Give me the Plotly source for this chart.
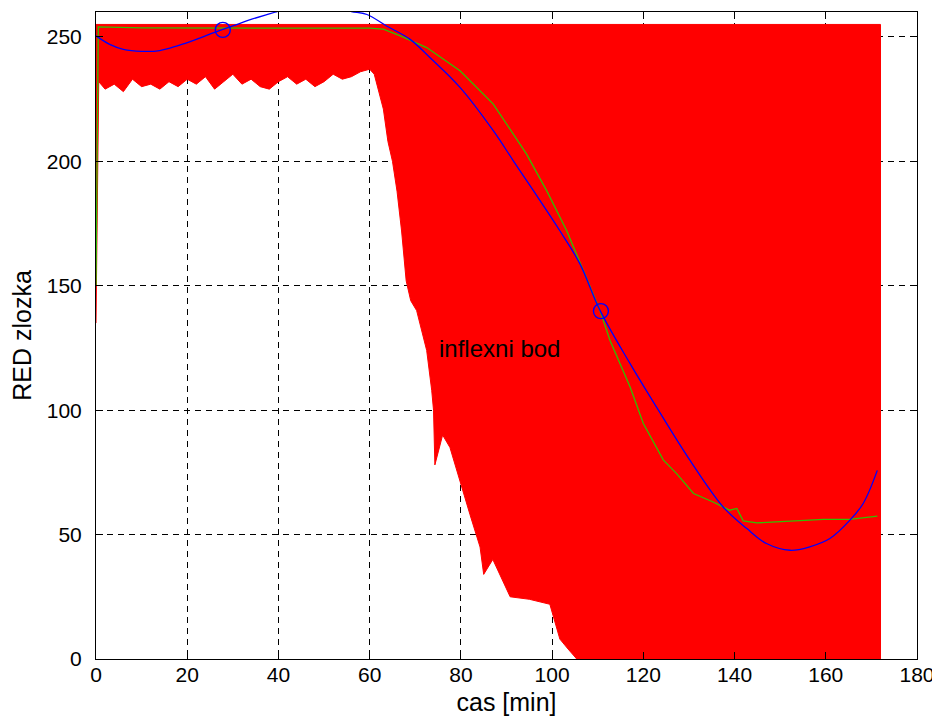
import plotly.graph_objects as go

# ---- data ----
# envelope of the many red sample curves
red_upper_x = [0, 172]
red_upper_y = [255, 255]
red_lower_x = [0, 0.6, 2, 4, 6, 8, 10, 12, 14, 16, 18, 20, 22, 24, 26, 28, 30, 32, 34, 36,
               38, 40, 42, 44, 46, 48, 50, 52, 54, 56, 58, 60, 61, 62, 63, 64, 65, 66, 67,
               68, 69, 70.3, 72.5, 73.6, 74, 74.3, 76, 77.6, 79.8, 82, 84.2, 85, 87, 90.8,
               95, 99.5, 101.7, 103.5, 105.4, 172]
red_lower_y = [135, 232, 229, 231, 228, 233, 230, 231, 229, 232, 230, 233, 231, 234, 229, 232,
               235, 231, 233, 230, 229, 232, 234, 231, 233, 230, 232, 235, 233, 234, 236, 237,
               235, 228, 221, 208, 200, 188, 172, 152, 144, 140, 124, 108, 100, 78, 90, 85,
               72, 58, 45, 34, 40, 25, 24, 22, 8, 4, 0, 0]

# median curve (green)
median_x = [0, 0.5, 10, 20, 30, 40, 50, 60, 63, 66.7, 72.5, 79.8, 87.1, 94.4, 98.8, 103.2,
            107.8, 110.5, 112.7, 117.1, 120, 124.4, 127.3, 131, 135.3, 138.9, 140.5, 141.9,
            144.9, 152.2, 159.5, 165.3, 171.3]
median_y = [150, 254, 253.6, 253.6, 253.6, 253.6, 253.6, 253.5, 253.1, 250.4, 245.7, 236.4,
            223, 202.9, 188.2, 172.1, 152, 140, 128, 109.3, 94.6, 79.9, 74.5, 66.5, 63.1,
            59.8, 60.5, 55.5, 54.7, 55.5, 56.1, 56.1, 57.4]

# polynomial fit (blue)
fit_x = [0, 3, 6, 10, 14, 18, 22, 26, 30, 34, 38, 42, 47, 52, 56, 59.4, 63.7, 68.8, 73.2,
         79.8, 87.1, 91.5, 95.9, 101.7, 106.1, 110.5, 117.1, 122.9, 130.2, 137.5, 142.7,
         147, 152.2, 156.5, 160.9, 165.3, 168.2, 171.3]
fit_y = [250.4, 247, 245, 244.2, 244.5, 246.5, 249, 251.8, 254.4, 257, 259.2, 261.3, 262.3,
         261.8, 260.2, 259, 254.4, 249.1, 241.7, 229.7, 212.3, 200.2, 188.2, 172.1, 158.8,
         140.1, 118.7, 101.2, 79.9, 61.1, 52.4, 46.4, 43.7, 45.1, 48.4, 55.8, 62.5, 75.8]

# inflection points (blue circles)
inflection_x = [27.8, 110.7]
inflection_y = [252.8, 139.8]

x_ticks = [0, 20, 40, 60, 80, 100, 120, 140, 160, 180]
y_ticks = [0, 50, 100, 150, 200, 250]

x_label = "cas [min]"
y_label = "RED zlozka"
note_text = "inflexni bod"
note_x, note_y = 74.8, 124.8

FONT = "Liberation Sans, Arial, sans-serif"

# ---- figure ----
poly_x = red_upper_x + [red_upper_x[-1]] + red_lower_x[::-1]
poly_y = red_upper_y + [red_lower_y[-1]] + red_lower_y[::-1]

fig = go.Figure()
fig.add_trace(go.Scatter(x=poly_x, y=poly_y, mode="lines", fill="toself",
                         fillcolor="#ff0000", line=dict(color="#ff0000", width=1),
                         hoverinfo="skip", showlegend=False))
fig.add_trace(go.Scatter(x=median_x, y=median_y, mode="lines",
                         line=dict(color="#30c000", width=1.3), showlegend=False))
fig.add_trace(go.Scatter(x=fit_x, y=fit_y, mode="lines", line_shape="spline",
                         line=dict(color="#0000ff", width=1.3), showlegend=False))
fig.add_trace(go.Scatter(x=inflection_x, y=inflection_y, mode="markers",
                         marker=dict(symbol="circle-open", size=15, color="#0000ff",
                                     line=dict(color="#0000ff", width=1.4)),
                         showlegend=False))

fig.add_annotation(x=note_x, y=note_y, text=note_text, showarrow=False,
                   xanchor="left", yanchor="middle",
                   font=dict(family=FONT, size=24, color="black"))

axis_common = dict(showgrid=True, gridcolor="black", gridwidth=1, griddash="6px,5px",
                   zeroline=False, showline=True, linecolor="black", linewidth=1,
                   mirror="ticks", ticks="inside", ticklen=7, tickcolor="black",
                   tickfont=dict(family=FONT, size=21, color="black"),
                   automargin=False)

fig.update_xaxes(range=[0, 180], tickvals=x_ticks, ticklabelstandoff=-3,
                 title=dict(text=x_label, standoff=8,
                            font=dict(family=FONT, size=25, color="black")),
                 **axis_common)
fig.update_yaxes(range=[0, 260], tickvals=y_ticks, ticklabelstandoff=9,
                 title=dict(text=y_label, standoff=14,
                            font=dict(family=FONT, size=25, color="black")),
                 **axis_common)

# page body has an 8px margin, so the figure is sized to fit the 940x726 window
fig.update_layout(width=932, height=718,
                  margin=dict(l=88, r=23, t=4, b=67),
                  paper_bgcolor="white", plot_bgcolor="white",
                  font=dict(family=FONT, color="black"))

fig.write_html("out.html")
